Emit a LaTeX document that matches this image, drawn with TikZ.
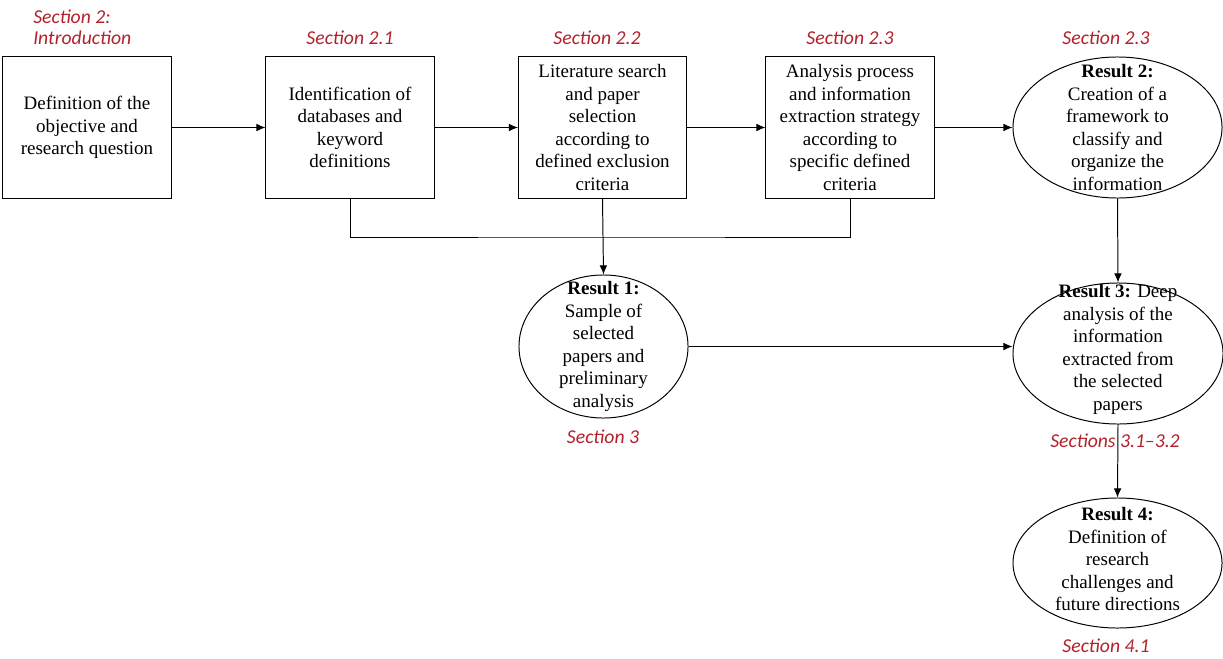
\documentclass[tikz,border=0pt]{standalone}
\usepackage{fontspec}
\setmainfont{Liberation Serif}
\newfontfamily\secfont{Carlito}
\usepackage{xcolor}
\usetikzlibrary{shapes.geometric, arrows.meta}

\definecolor{secred}{RGB}{178,34,44}

\tikzset{
  stepbox/.style={draw, line width=0.7pt, minimum width=4.2cm, minimum height=3.525cm, inner sep=0pt, align=center, font=\fontsize{13.5}{16}\selectfont},
  resell/.style={draw, ellipse, line width=0.7pt, inner sep=0pt},
  restext/.style={align=center, inner sep=0pt, font=\fontsize{13.5}{16}\selectfont},
  seclabel/.style={text=secred, font=\secfont\itshape\fontsize{14}{15}\selectfont, inner sep=0pt},
  link/.style={line width=0.7pt, -{Latex[length=6.5pt, width=5.5pt]}},
}

\begin{document}
\begin{tikzpicture}[x=0.025cm, y=-0.025cm]
  \useasboundingbox (0,0) rectangle (1223,658);

  % process boxes
  \node[stepbox] (defn) at (87,127.5) {Definition of the\\objective and\\research question};
  \node[stepbox] (ident) at (350,127.5) {Identification of\\databases and\\keyword\\definitions};
  \node[stepbox] (search) at (602.5,127.5) {Literature search\\and paper\\selection\\according to\\defined exclusion\\criteria};
  \node[stepbox] (analysis) at (850,127.5) {Analysis process\\and information\\extraction strategy\\according to\\specific defined\\criteria};

  % results
  \node[resell, minimum width=5.225cm, minimum height=3.525cm] (res2) at (1117.5,127.5) {};
  \node[restext] (res2txt) at (res2) {\textbf{Result 2:}\\Creation of a\\framework to\\classify and\\organize the\\information};
  \node[resell, minimum width=4.225cm, minimum height=3.575cm] (res1) at (603.5,346.5) {};
  \node[restext] (res1txt) at (res1) {\textbf{Result 1:}\\Sample of\\selected\\papers and\\preliminary\\analysis};
  \node[resell, minimum width=5.25cm, minimum height=3.525cm] (res3) at (1118,353.5) {};
  \node[restext] (res3txt) at ([yshift=0.1cm]res3.center) {\textbf{Result 3:} Deep\\analysis of the\\information\\extracted from\\the selected\\papers};
  \node[resell, minimum width=5.225cm, minimum height=3.25cm] (res4) at (1117.5,563) {};
  \node[restext] (res4txt) at ([yshift=0.1cm]res4.center) {\textbf{Result 4:}\\Definition of\\research\\challenges and\\future directions};

  % section labels
  \node[seclabel, anchor=west, align=left] (secintro) at (33,27.5) {Section 2:\\Introduction};
  \node[seclabel] (sec21) at (350,38) {Section 2.1};
  \node[seclabel] (sec22) at (597,38) {Section 2.2};
  \node[seclabel] (sec23a) at (850,38) {Section 2.3};
  \node[seclabel] (sec23b) at (1106,38) {Section 2.3};
  \node[seclabel] (sec3) at (603,437) {Section 3};
  \node[seclabel] (sec31) at (1115,441) {Sections 3.1–3.2};
  \node[seclabel] (sec41) at (1106,646) {Section 4.1};

  % connectors
  \draw[link] (defn) -- (ident);
  \draw[link] (ident) -- (search);
  \draw[link] (search) -- (analysis);
  \draw[link] (analysis) -- (res2);
  \coordinate (join) at (602.5,237);
  \draw[line width=0.7pt] (ident.south) |- (join) -| (analysis.south);
  \draw[link] (search.south) -- (res1.north);
  \draw[link] (res2.south) -- (res3.north);
  \draw[link] (res1.east) -- (res1.east -| res3.west);
  \draw[link] (res3.south) -- (res4.north);
\end{tikzpicture}
\end{document}
